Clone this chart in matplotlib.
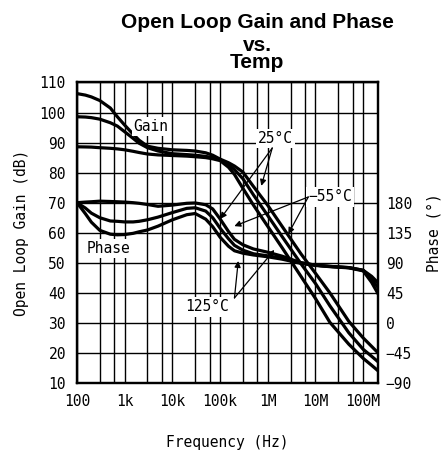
import matplotlib
matplotlib.use('Agg')
from matplotlib import pyplot as plt
from matplotlib.ticker import FixedLocator, NullFormatter

plt.rcParams['font.family'] = ['DejaVu Sans Mono']

# frequency points (Hz)
freq = [100, 150, 200, 300, 500, 700, 1e3, 1.5e3, 2e3, 3e3, 5e3, 1e4, 2e4, 3e4, 5e4, 7e4, 1e5,
        1.5e5, 2e5, 3e5, 5e5, 1e6, 2e6, 5e6, 1e7, 2e7, 5e7, 1e8, 1.5e8, 2e8]

# open loop gain (dB)
gain_25 = [106.3, 105.8, 105.2, 104.0, 101.5, 98.6, 95.8, 92.8, 90.8, 88.8, 88.1, 87.6, 87.4, 87.2,
           86.6, 85.8, 84.5, 83.3, 82.2, 80.2, 75.4, 69.1, 62.1, 52.9, 46.5, 40.0, 30.5, 25.0, 22.2, 20.2]
gain_m55 = [98.6, 98.5, 98.3, 97.8, 96.6, 95.5, 93.6, 91.4, 89.8, 88.3, 87.2, 86.3, 86.0, 85.8,
            85.4, 85.0, 84.3, 82.6, 81.0, 78.0, 72.6, 65.7, 58.7, 49.6, 43.1, 35.7, 26.7, 21.2, 18.9, 17.2]
gain_125 = [88.6, 88.55, 88.5, 88.3, 88.1, 87.9, 87.6, 87.1, 86.7, 86.2, 85.9, 85.7, 85.5, 85.3,
            85.0, 84.6, 84.0, 81.8, 79.4, 74.8, 69.2, 62.1, 55.0, 45.4, 38.1, 30.2, 22.9, 18.2, 15.9, 14.2]

# phase (degrees)
phase_25 = [180, 180.9, 181.4, 182.3, 181.8, 181.4, 180.9, 180.0, 179.1, 177.3, 174.6, 176.4, 179.1,
            179.6, 176.9, 170.6, 155.7, 136.8, 125.1, 117.0, 110.7, 105.8, 99.9, 90.0, 86.4, 84.6,
            82.8, 78.8, 69.8, 60.8]
phase_m55 = [180, 171.9, 164.3, 157.5, 152.6, 152.1, 151.2, 151.2, 152.1, 154.4, 158.4, 165.2, 171.5,
             172.4, 167.4, 157.5, 141.8, 126.0, 116.1, 108.9, 103.5, 100.4, 96.8, 90.0, 86.4, 84.6,
             82.8, 78.8, 65.3, 54.0]
phase_125 = [180, 163.4, 150.8, 138.6, 132.8, 131.9, 132.3, 134.1, 136.4, 139.1, 144.9, 154.4, 162.0,
             163.8, 155.3, 144.0, 128.3, 114.8, 108.0, 104.4, 101.7, 99.0, 95.4, 89.1, 86.0, 84.2,
             82.4, 77.9, 60.8, 45.0]

x_ticks = [1e2, 1e3, 1e4, 1e5, 1e6, 1e7, 1e8]
x_labels = ['100', '1k', '10k', '100k', '1M', '10M', '100M']
x_minor = [m * 10 ** e for e in range(2, 8) for m in (3, 6)]
gain_ticks = list(range(10, 111, 10))
phase_ticks = [-90, -45, 0, 45, 90, 135, 180]
phase_labels = ['\u221290', '\u221245', '0', '45', '90', '135', '180']

fig = plt.figure(figsize=(4.47, 4.51), dpi=100)
ax = fig.add_axes([0.1723, 0.1508, 0.6723, 0.6663])
ax.set_xscale('log')
ax.set_xlim(100, 2e8)
ax.set_ylim(10, 110)
ax.set_xticks(x_ticks)
ax.set_xticklabels(x_labels)
ax.xaxis.set_minor_locator(FixedLocator(x_minor))
ax.xaxis.set_minor_formatter(NullFormatter())
ax.set_yticks(gain_ticks)
ax.grid(True, which='both', color='black', lw=1.0)
ax.tick_params(which='both', length=0, labelsize=10.5, pad=8)
for s in ax.spines.values():
    s.set_linewidth(1.6)

for g in (gain_25, gain_m55, gain_125):
    ax.plot(freq, g, color='black', lw=2.3)

ax2 = ax.twinx()
ax2.set_ylim(-90, 360)
ax2.set_yticks(phase_ticks)
ax2.set_yticklabels(phase_labels)
ax2.tick_params(length=0, labelsize=10.5, pad=6)
for s in ax2.spines.values():
    s.set_linewidth(1.6)

for p in (phase_25, phase_m55, phase_125):
    ax2.plot(freq, p, color='black', lw=2.3)

ax.set_ylabel('Open Loop Gain (dB)', fontsize=10.5, labelpad=8)
ax.set_xlabel('Frequency (Hz)', fontsize=10.5, labelpad=19)
ax2.set_ylabel('Phase (\u00b0)', fontsize=10.5, rotation=90, labelpad=10)

# labels and arrows, placed in gain-axis coordinates
box = dict(facecolor='white', edgecolor='none', pad=1.5)
tr = ax.transData
ax2.text(3.6e3, 95.5, 'Gain', transform=tr, ha='center', va='center', fontsize=10.5, bbox=box)
ax2.text(453, 54.9, 'Phase', transform=tr, ha='center', va='center', fontsize=10.5, bbox=box)
ax2.text(1.44e6, 91.5, '25\u00b0C', transform=tr, ha='center', va='center', fontsize=10.5, bbox=box)
ax2.text(2.04e7, 71.9, '\u221255\u00b0C', transform=tr, ha='center', va='center', fontsize=10.5, bbox=box)
ax2.text(5.45e4, 35.3, '125\u00b0C', transform=tr, ha='center', va='center', fontsize=10.5, bbox=box)

arrows = [((1.24e6, 88.2), (7.31e5, 75.6)),
          ((1.24e6, 88.2), (1.01e5, 64.6)),
          ((7.06e6, 71.9), (1.99e5, 62.2)),
          ((7.06e6, 71.9), (2.69e6, 59.6)),
          ((2.0e5, 38.3), (2.4e5, 50.6)),
          ((2.0e5, 38.3), (1.37e6, 54.3))]
for tail, tip in arrows:
    ax2.annotate('', xy=tip, xytext=tail, xycoords=tr, textcoords=tr,
                 arrowprops=dict(arrowstyle='-|>', color='black', lw=0.9,
                                 mutation_scale=9, shrinkA=0, shrinkB=0))

title_font = dict(family='Liberation Sans', weight='bold', fontsize=15, ha='center')
fig.text(257 / 447, 1 - 28.3 / 451, 'Open Loop Gain and Phase', va='baseline', **title_font)
fig.text(257 / 447, 1 - 50.7 / 451, 'vs.', va='baseline', **title_font)
fig.text(257 / 447, 1 - 68.3 / 451, 'Temp', va='baseline', **title_font)

fig.savefig('out.png', dpi=100)
